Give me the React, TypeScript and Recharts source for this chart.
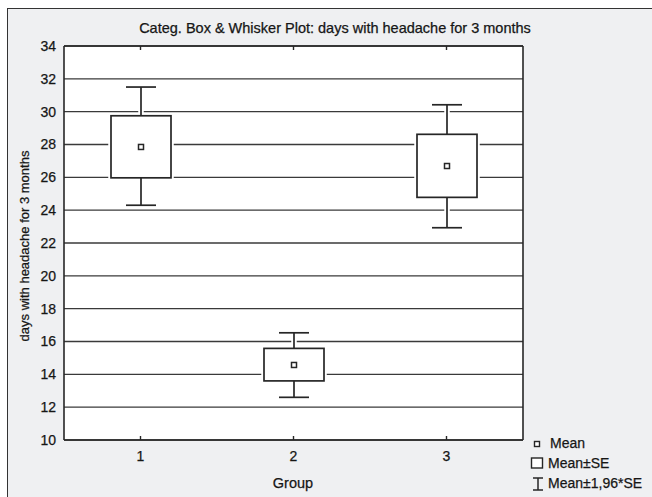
import React from "react";
import { ComposedChart, Bar, XAxis, YAxis, CartesianGrid } from "recharts";

const groups = ["1", "2", "3"];
const means = [27.85, 14.57, 26.69];
const seLow = [25.97, 13.6, 24.78];
const seHigh = [29.75, 15.58, 28.62];
const ciLow = [24.3, 12.6, 22.93];
const ciHigh = [31.5, 16.53, 30.42];
const yTicks = [10, 12, 14, 16, 18, 20, 22, 24, 26, 28, 30, 32, 34];

const data = groups.map((g, i) => ({
  group: g,
  mean: means[i],
  seLow: seLow[i],
  seHigh: seHigh[i],
  ciLow: ciLow[i],
  ciHigh: ciHigh[i],
}));

const FONT = "'Liberation Sans', Arial, Helvetica, sans-serif";
const INK = "#262626";
const TXT = "#161616";

const BoxShape = (props: any) => {
  const { x, y, width, height, payload } = props;
  if (!payload) return null;
  const top = Math.min(y, y + height);
  const h = Math.abs(height);
  const hi = payload.ciHigh;
  const lo = payload.ciLow;
  const py = (v: number) => top + ((hi - v) / (hi - lo)) * h;
  const cx = x + width / 2;
  const capHalf = width / 4;
  const yHi = py(hi);
  const yLo = py(lo);
  const ySeH = py(payload.seHigh);
  const ySeL = py(payload.seLow);
  const yM = py(payload.mean);
  const shapes = (stroke: string, sw: number, fill: string) => (
    <g stroke={stroke} strokeWidth={sw} fill="none">
      <line x1={cx} x2={cx} y1={yHi} y2={ySeH} />
      <line x1={cx} x2={cx} y1={ySeL} y2={yLo} />
      <line x1={cx - capHalf} x2={cx + capHalf} y1={yHi} y2={yHi} />
      <line x1={cx - capHalf} x2={cx + capHalf} y1={yLo} y2={yLo} />
      <rect x={x} y={ySeH} width={width} height={ySeL - ySeH} fill={fill} />
    </g>
  );
  return (
    <g>
      {shapes("#ffffff", 5.5, "#ffffff")}
      {shapes(INK, 1.7, "#ffffff")}
      <rect x={cx - 2.5} y={yM - 2.5} width={5} height={5} fill="#fff" stroke={INK} strokeWidth={1.5} />
    </g>
  );
};

const BottomTick = (props: any) => {
  const { x, y, payload } = props;
  return (
    <g>
      <line x1={x} x2={x} y1={y - 4} y2={y} stroke={INK} strokeWidth={1.4} />
      <text x={x} y={y + 21} textAnchor="middle" fontSize={14} fill={TXT} stroke={TXT} strokeWidth={0.25} fontFamily={FONT}>
        {payload.value}
      </text>
    </g>
  );
};

const TopTick = (props: any) => {
  const { x, y } = props;
  return <line x1={x} x2={x} y1={y} y2={y + 4} stroke={INK} strokeWidth={1.4} />;
};

export default function App() {
  return (
    <div style={{ position: "absolute", left: 0, top: 0, width: 652, height: 497, background: "#fff", overflow: "hidden" }}>
      <div
        style={{
          position: "absolute",
          left: 7,
          top: 8,
          width: 700,
          height: 600,
          border: "1px solid #333",
          background: "#eff0f2",
        }}
      />
      <div style={{ position: "absolute", left: 0, top: 0 }}>
        <ComposedChart
          width={652}
          height={497}
          data={data}
          margin={{ top: 45, right: 128, left: 0, bottom: 27 }}
        >
          <CartesianGrid vertical={false} stroke="#3a3a3a" strokeWidth={1.4} fill="#ffffff" />
          <XAxis
            dataKey="group"
            height={30}
            axisLine={{ stroke: INK, strokeWidth: 1.6 }}
            tickLine={false}
            tickSize={0}
            tickMargin={0}
            tick={<BottomTick />}
            interval={0}
          />
          <XAxis
            xAxisId="top"
            dataKey="group"
            orientation="top"
            height={1}
            axisLine={{ stroke: INK, strokeWidth: 1.6 }}
            tickLine={false}
            tickSize={0}
            tickMargin={0}
            tick={<TopTick />}
            interval={0}
          />
          <YAxis
            domain={[10, 34]}
            ticks={yTicks}
            interval={0}
            width={64}
            axisLine={{ stroke: INK, strokeWidth: 1.6 }}
            tickLine={false}
            tick={{ fontSize: 14, fill: TXT, stroke: TXT, strokeWidth: 0.25, fontFamily: FONT }}
          />
          <YAxis
            yAxisId="right"
            orientation="right"
            domain={[10, 34]}
            ticks={yTicks}
            width={1}
            axisLine={{ stroke: INK, strokeWidth: 1.6 }}
            tickLine={false}
            tick={false}
          />
          <Bar
            dataKey={(d: any) => [d.ciLow, d.ciHigh]}
            barSize={60}
            shape={<BoxShape />}
            isAnimationActive={false}
          />
        </ComposedChart>
      </div>
      <svg
        width={652}
        height={497}
        style={{ position: "absolute", left: 0, top: 0, pointerEvents: "none" }}
        fontFamily={FONT}
      >
        <g fill={TXT} stroke={TXT} strokeWidth={0.25}>
          <text x={335} y={33} textAnchor="middle" fontSize={14.5}>
            Categ. Box &amp; Whisker Plot: days with headache for 3 months
          </text>
          <text
            x={29}
            y={246}
            textAnchor="middle"
            fontSize={13}
            transform="rotate(-90 29 246)"
          >
            days with headache for 3 months
          </text>
          <text x={293} y={488} textAnchor="middle" fontSize={14.5}>
            Group
          </text>
          <text x={550} y={448} fontSize={14}>Mean</text>
          <text x={548} y={468} fontSize={14}>Mean±SE</text>
          <text x={548} y={488} fontSize={14}>Mean±1,96*SE</text>
        </g>
        <rect x={534.5} y={441.5} width={5} height={5} fill="#fff" stroke={INK} strokeWidth={1.4} />
        <rect x={531.5} y={458} width={11} height={10} fill="#fff" stroke={INK} strokeWidth={1.4} />
        <g stroke={INK} strokeWidth={1.5}>
          <line x1={538} x2={538} y1={478} y2={490} />
          <line x1={533} x2={543} y1={478} y2={478} />
          <line x1={533} x2={543} y1={490} y2={490} />
        </g>
      </svg>
    </div>
  );
}
